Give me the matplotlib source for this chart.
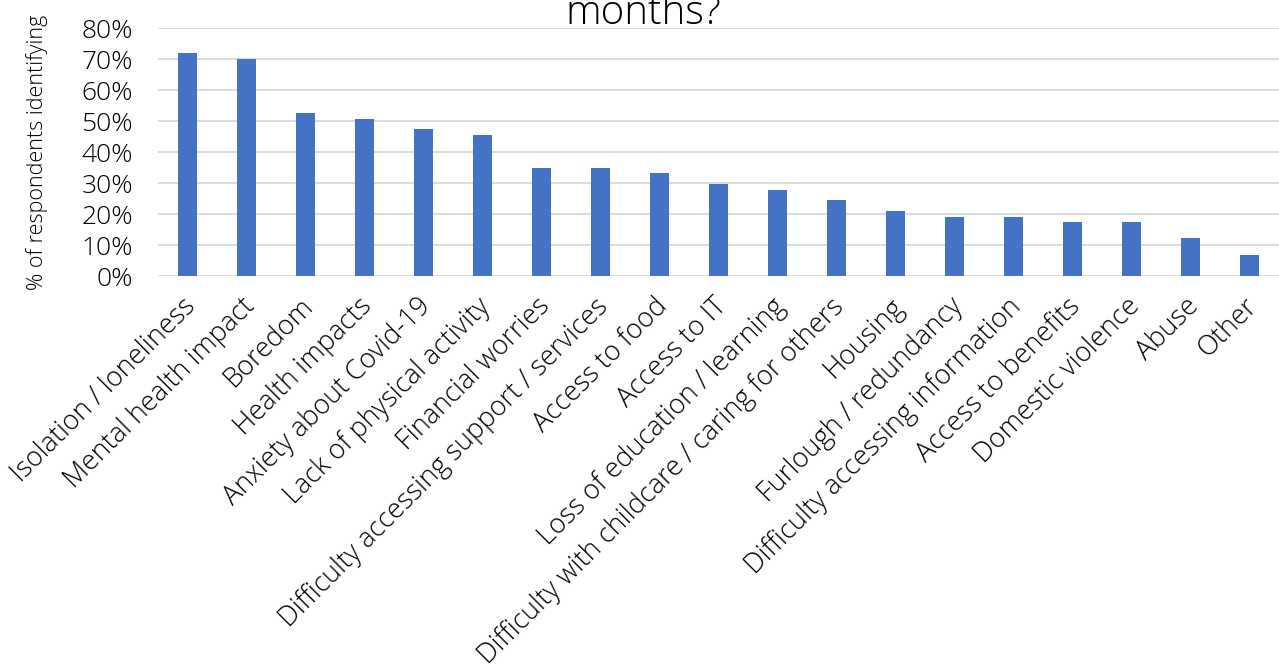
#!/usr/bin/env python3
# -*- coding: utf-8 -*-
"""

Bar chart of issues identified by respondents.

"""

# Import packages
import matplotlib
matplotlib.use('Agg')
import matplotlib.pyplot as plt
import matplotlib.transforms as mtransforms
import numpy as np
from matplotlib.ticker import PercentFormatter

# Define data
issues = ['Isolation / loneliness', 'Mental health impact', 'Boredom',
          'Health impacts', 'Anxiety about Covid-19', 'Lack of physical activity',
          'Financial worries', 'Difficulty accessing support / services',
          'Access to food', 'Access to IT', 'Loss of education / learning',
          'Difficulty with childcare / caring for others', 'Housing',
          'Furlough / redundancy', 'Difficulty accessing information',
          'Access to benefits', 'Domestic violence', 'Abuse', 'Other']
share = [72.0, 70.0, 52.5, 50.8, 47.3, 45.6, 35.0, 35.0, 33.2, 29.7, 27.9,
         24.5, 21.0, 19.1, 19.1, 17.5, 17.5, 12.2, 6.9]
yticks = [0, 10, 20, 30, 40, 50, 60, 70, 80]

# Define colours
c1 = '#4472C4'
grid_c = '#D9D9D9'

plt.rcParams['font.family'] = ['Open Sans', 'DejaVu Sans']
plt.rcParams['font.weight'] = 'light'

#%%

# Plot
fig = plt.figure(figsize=(12.79, 6.69), dpi=100)
ax1 = fig.add_axes([0.1235, 0.5874, 0.8765, 0.3707])

x = np.arange(len(issues))
ax1.bar(x, share, width=0.31, color=c1, zorder=3)

ax1.set_xlim(-0.5, len(issues) - 0.5)
ax1.set_ylim(0, 80)
ax1.set_yticks(yticks)
ax1.yaxis.set_major_formatter(PercentFormatter(decimals=0))
ax1.grid(True, axis='y', color=grid_c, lw=1.3, zorder=0)
for s in ['top', 'right', 'left', 'bottom']:
    ax1.spines[s].set_visible(False)
ax1.tick_params(axis='both', length=0, colors='black')
ax1.tick_params(axis='y', pad=18, labelsize=19)

ax1.set_xticks(x)
ax1.set_xticklabels(issues, rotation=45, ha='right', rotation_mode='anchor',
                    fontsize=19.5, fontweight='light')
ax1.tick_params(axis='x', pad=12)

# Nudge the rotated labels a little to the left
shift = mtransforms.ScaledTranslation(-6 / 100, 0, fig.dpi_scale_trans)
for lab in ax1.get_xticklabels():
    lab.set_transform(lab.get_transform() + shift)

ax1.set_ylabel('% of respondents identifying', fontsize=15.5, fontweight='light')
ax1.yaxis.set_label_coords(-0.098, 0.5)

# Title, only the last line is visible
fig.text(0.503, 0.964, 'months?', ha='center', va='baseline', fontsize=29,
         fontweight='light')

plt.savefig('out.png', dpi=100)
